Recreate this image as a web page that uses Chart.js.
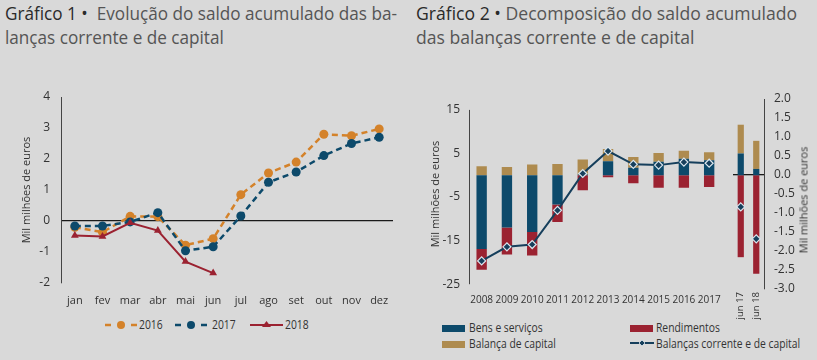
<!DOCTYPE html>
<html><head><meta charset="utf-8">
<script src="https://cdn.jsdelivr.net/npm/chart.js@4.4.1/dist/chart.umd.min.js"></script>
<style>
html,body{margin:0;padding:0;background:#d9d9d9;}
body{width:817px;height:360px;position:relative;overflow:hidden;font-family:"Open Sans",sans-serif;color:#333;}
canvas{position:absolute;top:0;}
.tl{position:absolute;font-size:18px;line-height:24px;white-space:nowrap;transform-origin:0 0;color:#555;}
.tl b{font-weight:500;color:#2a2a2a;}
.lg{position:absolute;font-size:12px;line-height:16px;white-space:nowrap;color:#333;transform-origin:0 50%;}
.ic{position:absolute;}
.sw{position:absolute;width:23px;height:7px;}
.rt{position:absolute;font-size:11px;white-space:nowrap;color:#333;transform:translate(-50%,-50%) rotate(-90deg);}
</style></head><body>
<div class="tl" id="t1a" style="left:5px;top:1px"><b>Gráfico 1</b> <b>•</b>&nbsp; Evolução do saldo acumulado das ba-</div>
<div class="tl" id="t1b" style="left:5px;top:25px">lanças corrente e de capital</div>
<div class="tl" id="t2a" style="left:416px;top:1px"><b>Gráfico 2</b> <b>•</b> Decomposição do saldo acumulado</div>
<div class="tl" id="t2b" style="left:416px;top:25px">das balanças corrente e de capital</div>

<canvas id="c1" width="410" height="310" style="left:0"></canvas>
<canvas id="c2" width="317" height="310" style="left:410px"></canvas>
<canvas id="c3" width="90" height="330" style="left:727px"></canvas>
<div class="rt" style="left:803px;top:200px">Mil milhões de euros</div>

<!-- legend chart 1 -->
<svg class="ic" style="left:105px;top:319px" width="32" height="12"><line x1="0" y1="6" x2="6" y2="6" stroke="#d4822a" stroke-width="2.5"/><line x1="26" y1="6" x2="32" y2="6" stroke="#d4822a" stroke-width="2.5"/><circle cx="16" cy="6" r="4" fill="#d4822a"/></svg>
<div class="lg" style="left:139px;top:317px">2016</div>
<svg class="ic" style="left:175px;top:319px" width="32" height="12"><line x1="0" y1="6" x2="6" y2="6" stroke="#0d4a6b" stroke-width="2.5"/><line x1="26" y1="6" x2="32" y2="6" stroke="#0d4a6b" stroke-width="2.5"/><circle cx="16" cy="6" r="4" fill="#0d4a6b"/></svg>
<div class="lg" style="left:212px;top:317px">2017</div>
<svg class="ic" style="left:250px;top:319px" width="33" height="12"><line x1="0" y1="6" x2="33" y2="6" stroke="#9b2231" stroke-width="2"/><polygon points="16.5,2 21,8 12,8" fill="#9b2231"/></svg>
<div class="lg" style="left:285px;top:317px">2018</div>

<!-- legend chart 2 -->
<div class="sw" style="left:442px;top:325px;background:#0d4a6b"></div>
<div class="lg" style="left:469px;top:320px">Bens e serviços</div>
<div class="sw" style="left:630px;top:325px;background:#9b2231"></div>
<div class="lg" style="left:656px;top:320px">Rendimentos</div>
<div class="sw" style="left:442px;top:341px;background:#ae8b4f"></div>
<div class="lg" style="left:469px;top:336px">Balança de capital</div>
<svg class="ic" style="left:630px;top:338px" width="24" height="10"><line x1="0" y1="5" x2="24" y2="5" stroke="#163f5c" stroke-width="2"/><polygon points="12,2 15,5 12,8 9,5" fill="#163f5c" stroke="#dbe6ee" stroke-width="0.8"/></svg>
<div class="lg" style="left:656px;top:336px">Balanças corrente e de capital</div>

<script>
// ---------- data: Gráfico 1 ----------
const months = ['jan','fev','mar','abr','mai','jun','jul','ago','set','out','nov','dez'];
const s2016 = [-0.20,-0.36,0.15,0.14,-0.78,-0.57,0.85,1.55,1.90,2.80,2.75,2.97];
const s2017 = [-0.16,-0.16,-0.03,0.27,-0.96,-0.83,0.16,1.25,1.58,2.11,2.50,2.70];
const s2018 = [-0.47,-0.50,-0.06,-0.31,-1.31,-1.68];
const ticks1 = [-2,-1,0,1,2,3,4];

// ---------- data: Gráfico 2 ----------
const years = ['2008','2009','2010','2011','2012','2013','2014','2015','2016','2017'];
const bens = [-16.9,-12.0,-13.0,-6.7,0.2,3.2,1.7,3.1,3.8,3.45];
const rendimentos = [-4.8,-6.2,-5.4,-4.0,-3.45,-0.45,-1.85,-2.85,-2.85,-2.7];
const capital = [2.07,1.9,2.45,2.6,3.4,2.8,2.5,2.0,1.8,1.85];
const saldo = [-2.26,-1.89,-1.83,-0.93,0.04,0.63,0.28,0.26,0.34,0.31];
const junLabels = ['jun 17','jun 18'];
const junBens = [5.0,1.45];
const junRendimentos = [-18.8,-22.6];
const junCapital = [6.6,6.45];
const junSaldo = [-0.84,-1.68];
const ticksLeft2 = [15,5,-5,-15,-25];
const ticksRight2 = [2,1.5,1,0.5,0,-0.5,-1,-1.5,-2,-2.5,-3];

const ORANGE='#d4822a', NAVY='#0d4a6b', RED='#9b2231', GOLD='#ae8b4f', LINE='#163f5c';
const TXT='#333', FAM="'Open Sans', sans-serif";

// detect whether a narrower face of Open Sans can be used on canvas
const NARROW = (function(){
  const c=document.createElement('canvas').getContext('2d');
  c.font="11px "+FAM; const w1=c.measureText('2008 2009').width;
  c.font="semi-condensed 11px "+FAM;
  const ok=c.font.indexOf('condensed')>=0; const w2=c.measureText('2008 2009').width;
  return ok && w2 < w1*0.96;
})();
const FONT = {family:FAM, size:11};
const XFONT2 = NARROW ? {family:FAM, size:11, weight:'semi-condensed'} : {family:FAM, size:10};
const JFONT = NARROW ? {family:FAM, size:10.5, weight:'condensed'} : {family:FAM, size:9.5};

function fit(ids, w){
  const el=document.getElementById(ids[0]);
  const k=w/el.getBoundingClientRect().width;
  ids.forEach(i=>document.getElementById(i).style.transform='scaleX('+k+')');
}
fit(['t1a','t1b'],392); fit(['t2a','t2b'],381);
document.querySelectorAll('.lg').forEach(e=>e.style.transform='scaleX(0.86)');

const zeroGrid = ctx => (ctx.tick && ctx.tick.value===0) ? '#1a1a1a' : 'rgba(0,0,0,0)';
const base = {responsive:false, animation:false, devicePixelRatio:1,
  plugins:{legend:{display:false}, tooltip:{enabled:false}}};

// ---------- Chart 1 ----------
new Chart(document.getElementById('c1'), {
  type:'line',
  data:{labels:months, datasets:[
    {label:'2016', data:s2016, borderColor:ORANGE, backgroundColor:ORANGE, borderWidth:2.5, borderDash:[6,4],
     pointStyle:'circle', pointRadius:4.5, pointBorderWidth:0, order:3},
    {label:'2017', data:s2017, borderColor:NAVY, backgroundColor:NAVY, borderWidth:2.5, borderDash:[6,4],
     pointStyle:'circle', pointRadius:4.5, pointBorderWidth:0, order:2},
    {label:'2018', data:s2018, borderColor:RED, backgroundColor:RED, borderWidth:2,
     pointStyle:'triangle', pointRadius:4.5, pointBorderWidth:0, order:1}
  ]},
  options:{...base,
    layout:{padding:{top:97,right:17,left:0,bottom:0}},
    scales:{
      x:{offset:true, grid:{display:false,drawTicks:false}, border:{display:false},
         ticks:{color:TXT,font:FONT,padding:11,maxRotation:0,autoSkip:false},
         afterFit:s=>{s.height=27;}},
      y:{min:-2,max:4, afterBuildTicks:s=>{s.ticks=ticks1.map(v=>({value:v}));},
         grid:{color:zeroGrid,lineWidth:1.3,drawTicks:false}, border:{display:true,color:'#444',width:1},
         ticks:{color:TXT,font:{...FONT,size:12},padding:11},
         title:{display:true,text:'Mil milhões de euros',color:TXT,font:FONT,padding:{top:20,bottom:0}},
         afterFit:s=>{s.width=61;}}
    }
  }
});

const axisLine = {id:'axisLine', afterDraw(ch){
  const s=ch.scales.y, c=ch.ctx;
  c.save(); c.strokeStyle='#444'; c.lineWidth=1;
  c.beginPath(); c.moveTo(ch.chartArea.left+0.5, s.getPixelForValue(ticksLeft2[0]));
  c.lineTo(ch.chartArea.left+0.5, s.getPixelForValue(ticksLeft2[ticksLeft2.length-1])); c.stroke(); c.restore();
}};

const LMIN=-26.1, LMAX=17.5;
// ---------- Chart 2A (years) ----------
new Chart(document.getElementById('c2'), {
  type:'bar',
  data:{labels:years, datasets:[
    {type:'line', label:'Balanças corrente e de capital', data:saldo, yAxisID:'y1', borderColor:LINE, borderWidth:2,
     pointStyle:'rectRot', pointRadius:4, backgroundColor:LINE, pointBorderColor:'#dbe6ee', pointBorderWidth:1.2, order:0},
    {label:'Bens e serviços', data:bens, backgroundColor:NAVY, stack:'s', order:1},
    {label:'Rendimentos', data:rendimentos, backgroundColor:RED, stack:'s', order:1},
    {label:'Balança de capital', data:capital, backgroundColor:GOLD, stack:'s', order:1}
  ]},
  options:{...base,
    datasets:{bar:{categoryPercentage:1, barPercentage:0.41}},
    layout:{padding:{top:99,right:0,left:0,bottom:0}},
    scales:{
      x:{stacked:true, grid:{display:false,drawTicks:false}, border:{display:false},
         ticks:{color:TXT,font:XFONT2,padding:5,maxRotation:0,autoSkip:false},
         afterFit:s=>{s.height=21;}},
      y:{stacked:true, min:LMIN, max:LMAX, afterBuildTicks:s=>{s.ticks=ticksLeft2.map(v=>({value:v}));},
         grid:{color:zeroGrid,lineWidth:1.3,drawTicks:false}, border:{display:false},
         ticks:{color:TXT,font:{...FONT,size:12},padding:9},
         title:{display:true,text:'Mil milhões de euros',color:TXT,font:FONT,padding:{top:19,bottom:0}},
         afterFit:s=>{s.width=59;}},
      y1:{display:false, min:-3, max:2}
    }
  },
  plugins:[axisLine]
});

// ---------- Chart 2B (jun) ----------
new Chart(document.getElementById('c3'), {
  type:'bar',
  data:{labels:junLabels, datasets:[
    {type:'line', label:'Balanças corrente e de capital', data:junSaldo, yAxisID:'y1', showLine:false,
     pointStyle:'rectRot', pointRadius:4, backgroundColor:LINE, pointBorderColor:'#dbe6ee', pointBorderWidth:1.2, order:0},
    {label:'Bens e serviços', data:junBens, backgroundColor:NAVY, stack:'s', order:1},
    {label:'Rendimentos', data:junRendimentos, backgroundColor:RED, stack:'s', order:1},
    {label:'Balança de capital', data:junCapital, backgroundColor:GOLD, stack:'s', order:1}
  ]},
  options:{...base,
    datasets:{bar:{categoryPercentage:1, barPercentage:0.4}},
    layout:{padding:{top:99,right:0,left:6,bottom:0}},
    scales:{
      x:{stacked:true, grid:{display:false,drawTicks:false}, border:{display:false},
         ticks:{color:TXT,font:JFONT,padding:3,minRotation:90,maxRotation:90,autoSkip:false},
         afterFit:s=>{s.height=41;}},
      y:{stacked:true, display:false, min:LMIN, max:LMAX},
      y1:{position:'right', min:-3, max:2, afterBuildTicks:s=>{s.ticks=ticksRight2.map(v=>({value:v}));},
          grid:{color:zeroGrid,lineWidth:1.3,drawTicks:false}, border:{display:true,color:'#444',width:1},
          ticks:{color:TXT,font:{...FONT,size:12},padding:10,callback:v=>Number(v).toFixed(1)},
          afterFit:s=>{s.width=53;}}
    }
  }
});
</script>
</body></html>
